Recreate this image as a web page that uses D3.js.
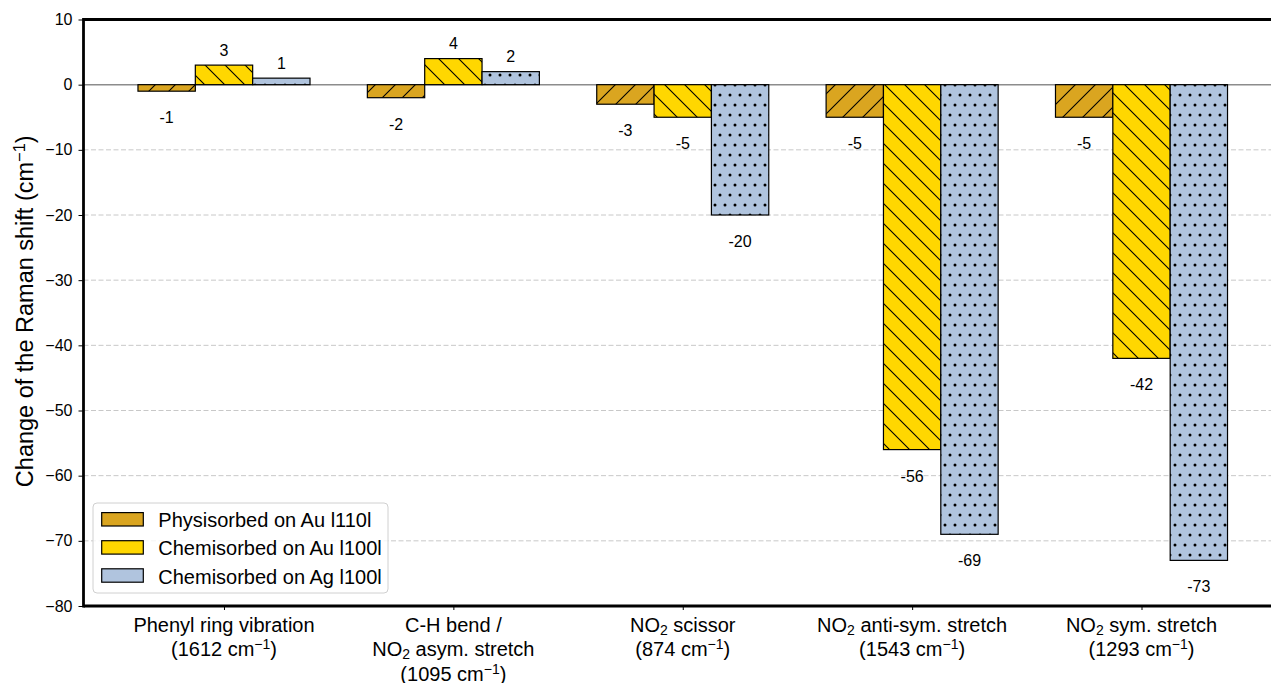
<!DOCTYPE html>
<html>
<head>
<meta charset="utf-8">
<script src="https://cdn.jsdelivr.net/npm/d3@7"></script>
<style>
  html, body { margin: 0; padding: 0; background: #fff; }
  svg { display: block; font-family: "Liberation Sans", Arial, Helvetica, sans-serif; }
</style>
</head>
<body>
<svg id="chart" width="1271" height="683"></svg>
<script>
// Vibrational modes (x categories); each entry is a list of label lines,
// each line a list of [text, style] runs ("sub"/"sup" for shifted text).
const categories = [
  [[["Phenyl ring vibration", ""]], [["(1612 cm", ""], ["\u22121", "sup"], [")", ""]]],
  [[["C-H bend /", ""]], [["NO", ""], ["2", "sub"], [" asym. stretch", ""]], [["(1095 cm", ""], ["\u22121", "sup"], [")", ""]]],
  [[["NO", ""], ["2", "sub"], [" scissor", ""]], [["(874 cm", ""], ["\u22121", "sup"], [")", ""]]],
  [[["NO", ""], ["2", "sub"], [" anti-sym. stretch", ""]], [["(1543 cm", ""], ["\u22121", "sup"], [")", ""]]],
  [[["NO", ""], ["2", "sub"], [" sym. stretch", ""]], [["(1293 cm", ""], ["\u22121", "sup"], [")", ""]]]
];

// Series: change of the Raman shift (cm^-1)
const seriesNames = ["Physisorbed on Au l110l", "Chemisorbed on Au l100l", "Chemisorbed on Ag l100l"];
const physisorbedAu110 = [-1, -2, -3, -5, -5];
const chemisorbedAu100 = [3, 4, -5, -56, -42];
const chemisorbedAg100 = [1, 2, -20, -69, -73];
const seriesValues = [physisorbedAu110, chemisorbedAu100, chemisorbedAg100];

const yTicks = [10, 0, -10, -20, -30, -40, -50, -60, -70, -80];
const gridTicks = [-10, -20, -30, -40, -50, -60, -70];

const colors = ["#DAA520", "#FFD700", "#B0C4DE"];
const hatchIds = ["hatchNE", "hatchNW", "hatchDots"];

const svg = d3.select("#chart");
const defs = svg.append("defs");

// Hatch patterns: "/" lines, "\" lines and staggered dots
function linePattern(id, color, d) {
  const p = defs.append("pattern").attr("id", id)
    .attr("patternUnits", "userSpaceOnUse").attr("width", 20).attr("height", 20);
  p.append("rect").attr("width", 20).attr("height", 20).attr("fill", color);
  p.append("path").attr("d", d).attr("stroke", "#000").attr("stroke-width", 1.1).attr("fill", "none");
}
linePattern("hatchNE", colors[0], "M0,20L20,0M-5,5L5,-5M15,25L25,15");
linePattern("hatchNW", colors[1], "M0,0L20,20M-5,15L5,25M15,-5L25,5");
{
  const p = defs.append("pattern").attr("id", "hatchDots")
    .attr("patternUnits", "userSpaceOnUse").attr("width", 10).attr("height", 20);
  p.append("rect").attr("width", 10).attr("height", 20).attr("fill", colors[2]);
  [[5, 5], [0, 15], [10, 15]].forEach(([cx, cy]) =>
    p.append("circle").attr("cx", cx).attr("cy", cy).attr("r", 1.5).attr("fill", "#000"));
}

// Scales
const plotL = 83.5, plotR = 1282, plotT = 19.5, plotB = 606;
const x = d3.scaleLinear().domain([-0.6125, 4.6125]).range([plotL, plotR]);
const y = d3.scaleLinear().domain([-80, 10]).range([plotB, plotT]);
const barW = 0.25;

// Dashed grid
svg.append("g").selectAll("line").data(gridTicks).join("line")
  .attr("x1", plotL).attr("x2", plotR)
  .attr("y1", d => y(d)).attr("y2", d => y(d))
  .attr("stroke", "#c8c8c8").attr("stroke-width", 1).attr("stroke-dasharray", "5,2.5");

// Zero line
svg.append("line").attr("x1", plotL).attr("x2", plotR)
  .attr("y1", y(0)).attr("y2", y(0))
  .attr("stroke", "#8c8c8c").attr("stroke-width", 1.5);

// Bars
const bars = svg.append("g");
seriesValues.forEach((vals, s) => {
  bars.selectAll(null).data(vals).join("rect")
    .attr("x", (d, i) => x(i + (s - 1) * barW - barW / 2))
    .attr("width", x(barW) - x(0))
    .attr("y", d => y(Math.max(0, d)))
    .attr("height", d => Math.abs(y(d) - y(0)))
    .attr("fill", `url(#${hatchIds[s]})`)
    .attr("stroke", "#000").attr("stroke-width", 1.2);
});

// Value labels
const labels = svg.append("g").attr("font-size", 16).attr("text-anchor", "middle").attr("fill", "#000");
seriesValues.forEach((vals, s) => {
  labels.selectAll(null).data(vals).join("text")
    .attr("x", (d, i) => x(i + (s - 1) * barW))
    .attr("y", d => d >= 0 ? y(d) - 9.5 : y(d) + 32)
    .text(d => String(d));
});

// Y axis
const yAxis = d3.axisLeft(y).tickValues(yTicks).tickSize(5).tickPadding(6)
  .tickFormat(d => d < 0 ? "\u2212" + Math.abs(d) : String(d));
const gy = svg.append("g").attr("transform", `translate(${plotL},0)`).call(yAxis);
gy.select(".domain").remove();
gy.selectAll(".tick line").attr("stroke", "#000").attr("stroke-width", 1);
gy.selectAll(".tick text").attr("font-size", 16).attr("font-family", "Liberation Sans, Arial, sans-serif").attr("fill", "#000");

// X axis ticks (labels drawn separately with sub/superscripts)
const xAxis = d3.axisBottom(x).tickValues(d3.range(categories.length)).tickSize(4).tickFormat("");
const gx = svg.append("g").attr("transform", `translate(0,${plotB})`).call(xAxis);
gx.select(".domain").remove();
gx.selectAll(".tick line").attr("stroke", "#000").attr("stroke-width", 1);

// Multi-line category labels
function addRuns(textSel, runs, baseSize) {
  runs.forEach(([t, style]) => {
    const ts = textSel.append("tspan").text(t);
    if (style === "sub") ts.attr("font-size", baseSize * 0.7).attr("baseline-shift", "-22%");
    else if (style === "sup") ts.attr("font-size", baseSize * 0.7).attr("baseline-shift", "48%");
  });
}
const catG = svg.append("g").attr("font-size", 20).attr("text-anchor", "middle").attr("fill", "#000");
categories.forEach((lines, i) => {
  lines.forEach((runs, j) => {
    const t = catG.append("text").attr("x", x(i)).attr("y", 631.5 + j * 24.5);
    addRuns(t, runs, 20);
  });
});

// Y axis title
const yt = svg.append("text").attr("font-size", 23.5).attr("text-anchor", "middle")
  .attr("transform", `translate(33,${(plotT + plotB) / 2 - 1.5}) rotate(-90)`);
addRuns(yt, [["Change of the Raman shift (cm", ""], ["\u22121", "sup"], [")", ""]], 23.5);

// Spines
svg.append("line").attr("x1", plotL).attr("x2", plotR).attr("y1", plotT).attr("y2", plotT)
  .attr("stroke", "#000").attr("stroke-width", 2.8);
svg.append("line").attr("x1", plotL).attr("x2", plotR).attr("y1", plotB).attr("y2", plotB)
  .attr("stroke", "#000").attr("stroke-width", 2.8);
svg.append("line").attr("x1", plotL).attr("x2", plotL).attr("y1", plotT - 1.4).attr("y2", plotB + 1.4)
  .attr("stroke", "#000").attr("stroke-width", 2.8);

// Legend
const lg = svg.append("g").attr("transform", "translate(93,503)");
lg.append("rect").attr("width", 295).attr("height", 90).attr("rx", 4)
  .attr("fill", "#fff").attr("fill-opacity", 0.8).attr("stroke", "#d0d0d0").attr("stroke-width", 1);
seriesNames.forEach((name, s) => {
  const cy = 16.3 + s * 28.1;
  lg.append("rect").attr("x", 8.7).attr("y", cy - 6.7).attr("width", 41.6).attr("height", 13.4)
    .attr("fill", colors[s]).attr("stroke", "#000").attr("stroke-width", 1.2);
  lg.append("text").attr("x", 65.3).attr("y", cy + 8).attr("font-size", 20).attr("fill", "#000").text(name);
});
</script>
</body>
</html>
